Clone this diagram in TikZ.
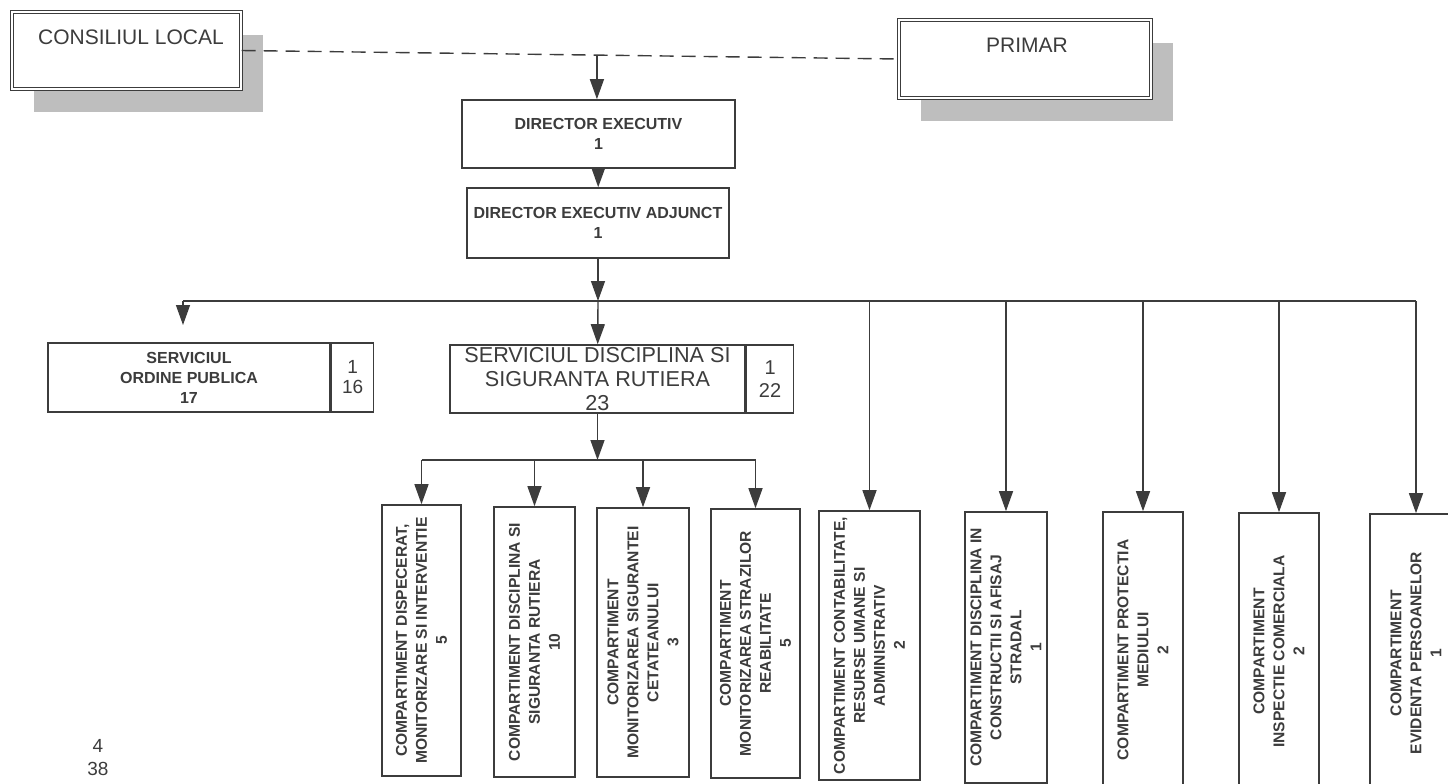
\documentclass[tikz,border=0pt]{standalone}
\usepackage{fontspec}
\setmainfont{Liberation Sans}
\usetikzlibrary{arrows.meta,calc,shadows}
\definecolor{ink}{HTML}{3C3C3C}
\definecolor{shade}{HTML}{BEBEBE}

\begin{document}
\begin{tikzpicture}[x=0.5pt, y=-0.5pt, color=ink, line width=0.7pt,
    >={Triangle[width=7pt,length=10pt]},
    topbox/.style={draw, double, double distance=1.2pt, line width=0.6pt, fill=white,
        drop shadow={shadow xshift=11pt, shadow yshift=-11.5pt, fill=shade, opacity=1}},
    toptext/.style={font=\fontsize{10.5}{12}\selectfont, inner sep=0pt},
    dirbox/.style={draw, line width=0.8pt, fill=white, align=center, inner sep=0pt,
        font=\fontsize{8}{10}\selectfont\bfseries},
    servbox/.style={draw, line width=0.8pt, fill=white, align=center, inner sep=0pt},
    numbox/.style={draw, line width=0.8pt, fill=white, align=center, inner sep=0pt, anchor=west,
        font=\fontsize{9.5}{10}\selectfont},
    compbox/.style={draw, line width=0.8pt, fill=white, align=center, inner sep=0pt, rotate=90,
        font=\fontsize{7.8}{10}\selectfont\bfseries}]
\useasboundingbox (0,0) rectangle (1448,783);
% conducere
\node[topbox, minimum width=114.5pt, minimum height=38.5pt] (cl) at (126.5,50.5) {};
\node[toptext] (cltext) at (131,37) {CONSILIUL LOCAL};
\node[topbox, minimum width=126pt, minimum height=39pt] (pr) at (1025,59) {};
\node[toptext] (prtext) at (1027,45) {PRIMAR};
\draw[dash pattern=on 7pt off 4pt] (cl.east) -- (pr.west);
\coordinate (jn) at ($(cl.east)!0.541!(pr.west)$);
\node[dirbox, minimum width=136.5pt, minimum height=34pt] (de) at (598.5,134) {DIRECTOR EXECUTIV\\1};
\node[dirbox, minimum width=131pt, minimum height=35pt] (dea) at (598,223) {DIRECTOR EXECUTIV ADJUNCT\\1};
\draw[->] (jn) -- (jn |- de.north);
\draw[->] (de) -- (dea);
% servicii
\node[servbox, minimum width=141pt, minimum height=34.5pt, font=\fontsize{8}{10}\selectfont\bfseries] (sop) at (189,377.5) {SERVICIUL\\ORDINE PUBLICA\\17};
\node[numbox, minimum width=21pt, minimum height=34.5pt] (sopnr) at (sop.east) {1\\16};
\node[servbox, minimum width=147.5pt, minimum height=34pt, font=\fontsize{10.8}{12}\selectfont] (sdsr) at (597.5,379) {SERVICIUL DISCIPLINA SI\\SIGURANTA RUTIERA\\23};
\node[numbox, minimum width=23.5pt, minimum height=34pt, font=\fontsize{10}{11.5}\selectfont] (sdsrnr) at (sdsr.east) {1\\22};
% compartimente
\node[compbox, minimum width=135.5pt, minimum height=39.5pt] (c1) at (421.5,640.5) {COMPARTIMENT DISPECERAT,\\MONITORIZARE SI INTERVENTIE\\5};
\node[compbox, minimum width=135pt, minimum height=40.5pt] (c2) at (534.5,642) {COMPARTIMENT DISCIPLINA SI\\SIGURANTA RUTIERA\\10};
\node[compbox, minimum width=134.5pt, minimum height=46pt] (c3) at (643,642.5) {COMPARTIMENT\\MONITORIZAREA SIGURANTEI\\CETATEANULUI\\3};
\node[compbox, minimum width=134.5pt, minimum height=44.5pt] (c4) at (755.5,643.5) {COMPARTIMENT\\MONITORIZAREA STRAZILOR\\REABILITATE\\5};
\node[compbox, minimum width=134.5pt, minimum height=50.5pt] (c5) at (869.5,645.5) {COMPARTIMENT CONTABILITATE,\\RESURSE UMANE SI\\ADMINISTRATIV\\2};
\node[compbox, minimum width=135.5pt, minimum height=41pt] (c6) at (1006,647.5) {COMPARTIMENT DISCIPLINA IN\\CONSTRUCTII SI AFISAJ\\STRADAL\\1};
\node[compbox, minimum width=138pt, minimum height=40pt] (c7) at (1143,650) {COMPARTIMENT PROTECTIA\\MEDIULUI\\2};
\node[compbox, minimum width=138.5pt, minimum height=40pt] (c8) at (1279,651.5) {COMPARTIMENT\\INSPECTIE COMERCIALA\\2};
\node[compbox, minimum width=139pt, minimum height=46pt] (c9) at (1416,653) {COMPARTIMENT\\EVIDENTA PERSOANELOR\\1};
\node[font=\fontsize{9.5}{11.5}\selectfont, align=center] (tot) at (98,758) {4\\38};
% legaturi
\coordinate (busL) at (183,301);
\coordinate (busR) at (1416,301);
\coordinate (sopgap) at (183,325);
\coordinate (sub) at (597.5,460);
\draw[->] (dea) -- (dea |- busL);
\draw (busL) -- (busR);
\draw[->] (busL) -- (sopgap);
\draw[->] (dea |- busL) -- (sdsr);
\draw[->] (sdsr) -- (sdsr |- sub);
\draw (c1.east |- sub) -- (c4.east |- sub);
\draw[->] (c1.east |- sub) -- (c1.east);
\draw[->] (c2.east |- sub) -- (c2.east);
\draw[->] (c3.east |- sub) -- (c3.east);
\draw[->] (c4.east |- sub) -- (c4.east);
\draw[->] (c5.east |- busL) -- (c5.east);
\draw[->] (c6.east |- busL) -- (c6.east);
\draw[->] (c7.east |- busL) -- (c7.east);
\draw[->] (c8.east |- busL) -- (c8.east);
\draw[->] (c9.east |- busL) -- (c9.east);
\end{tikzpicture}
\end{document}
